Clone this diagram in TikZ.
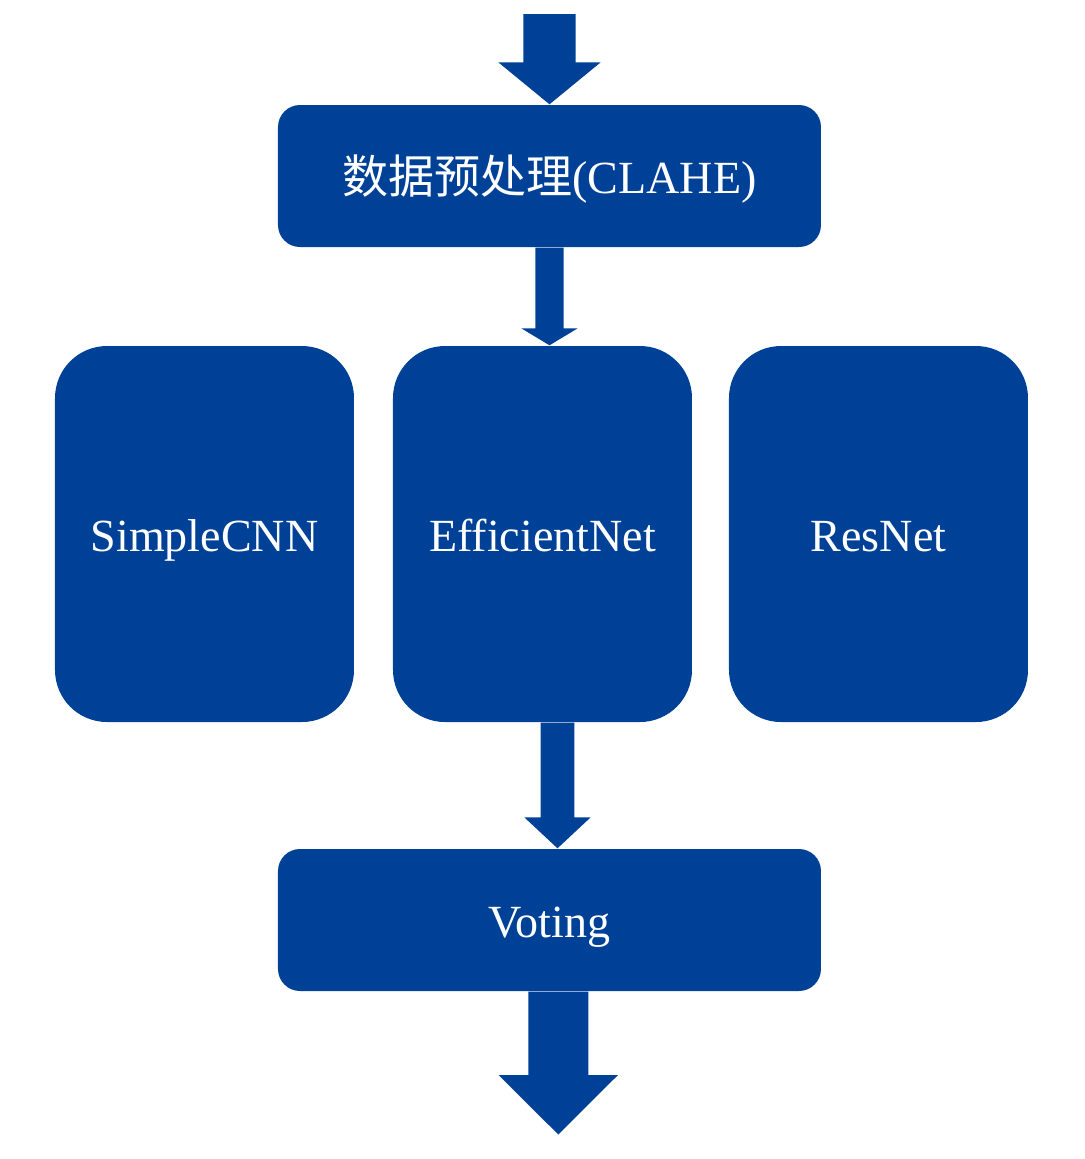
\documentclass[tikz,border=0pt]{standalone}
\usepackage{fontspec}
\setmainfont{Liberation Serif}
\newfontfamily\cjk{Noto Sans CJK SC}
\usetikzlibrary{calc}
\definecolor{blockblue}{RGB}{0,65,152}
\tikzset{
  widebox/.style = {fill=blockblue, text=white, rounded corners=0.22cm, minimum width=5.43cm, minimum height=1.42cm, inner sep=0pt, text height=0.35cm, text depth=0cm, font=\fontsize{13.1}{15}\selectfont},
  tallbox/.style = {fill=blockblue, text=white, rounded corners=0.52cm, minimum width=2.99cm, minimum height=3.76cm, inner sep=0pt, text height=0.34cm, text depth=0cm, font=\fontsize{13.1}{15}\selectfont}
}
% from, to, shaft half width, head half width, head length
\newcommand{\blockarrow}[5]{%
  \fill[blockblue] ($(#1)+(-#3,0)$) -- ($(#2)+(-#3,#5)$) -- ($(#2)+(-#4,#5)$) -- (#2)
    -- ($(#2)+(#4,#5)$) -- ($(#2)+(#3,#5)$) -- ($(#1)+(#3,0)$) -- cycle;}
\begin{document}
\begin{tikzpicture}
      \useasboundingbox (0,0) rectangle (10.84,-11.59);
      \node[widebox] (pre) at (5.495,-1.76) {{\cjk 数据预处理}(CLAHE)};
      \node[tallbox] (simple) at (2.045,-5.34) {SimpleCNN};
      \node[tallbox] (eff) at (5.425,-5.34) {EfficientNet};
      \node[tallbox] (res) at (8.785,-5.34) {ResNet};
      \node[widebox] (vote) at (5.495,-9.2) {Voting};
      \coordinate (in) at (5.495,-0.14);
      \coordinate (out) at (5.583,-11.345);
      \coordinate (effin) at (pre.south |- eff.north);
      \coordinate (effout) at ($(eff.south)+(0.15,0)$);
      \coordinate (votein) at (effout |- vote.north);
      \coordinate (voteout) at (out |- vote.south);
      % arrows
      \blockarrow{in}{pre.north}{0.261}{0.512}{0.42}
      \blockarrow{pre.south}{effin}{0.142}{0.282}{0.17}
      \blockarrow{effout}{votein}{0.168}{0.332}{0.31}
      \blockarrow{voteout}{out}{0.30}{0.597}{0.595}
    \end{tikzpicture}
\end{document}
